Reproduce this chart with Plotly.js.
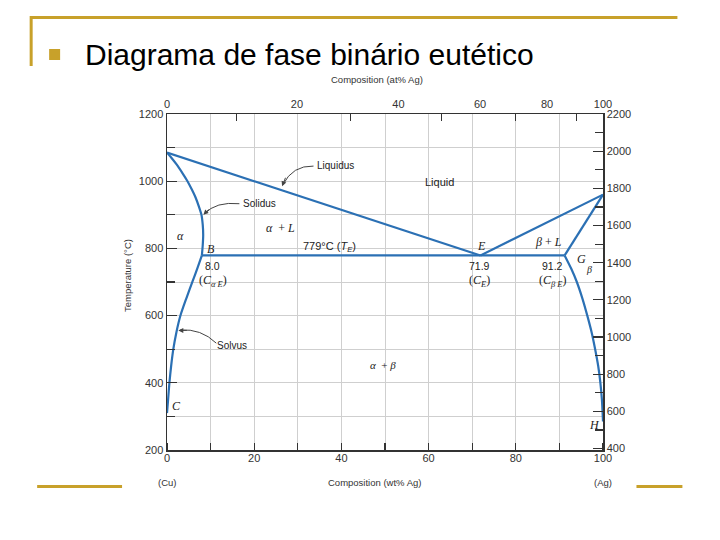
<!DOCTYPE html>
<html>
<head>
<meta charset="utf-8">
<script src="https://cdn.plot.ly/plotly-3.0.1.min.js"></script>
<style>html,body{margin:0;padding:0;background:#fff;}#chart{width:720px;height:540px;}</style>
</head>
<body>
<div id="chart"></div>
<script>
// ---- Data (wt% Ag, temperature °C) ----
const liquidusAE_x = [0, 71.9];
const liquidusAE_T = [1085, 779];
const liquidusEF_x = [71.9, 100];
const liquidusEF_T = [779, 960];
const solidusAlpha_x = [0, 1.0, 2.2, 3.5, 4.7, 5.7, 6.6, 7.3, 7.9, 8.2, 8.3, 8.2, 8.0];
const solidusAlpha_T = [1085, 1070, 1050, 1025, 1000, 975, 950, 925, 900, 870, 840, 810, 779];
const solvusAlpha_x = [8.0, 7.0, 5.9, 4.4, 3.1, 2.15, 1.45, 0.95, 0.55, 0.25, 0];
const solvusAlpha_T = [779, 742, 703, 650, 601, 550, 500, 450, 400, 350, 310];
const eutectic_x = [8.0, 91.2];
const eutectic_T = [779, 779];
const solidusBeta_x = [91.2, 100];
const solidusBeta_T = [779, 960];
const solvusBeta_x = [91.2, 92.7, 94.0, 95.3, 96.4, 97.4, 98.2, 98.9, 99.4, 99.75, 100];
const solvusBeta_T = [779, 740, 700, 650, 600, 550, 500, 450, 400, 350, 285];

// Axis ticks
const wtLabels = [0, 20, 40, 60, 80, 100];
const atLabels = [0, 20, 40, 60, 80, 100];
const atMinor = [10, 30, 50, 70, 90];
const tempCRange = [200, 1200];
const tempFLabels = [400, 600, 800, 1000, 1200, 1400, 1600, 1800, 2000, 2200];

// Conversions
const M_Ag = 107.87, M_Cu = 63.55;
function atToWt(a){ return 100 * a * M_Ag / (a * M_Ag + (100 - a) * M_Cu); }
function cToF(c){ return c * 1.8 + 32; }

// pixel -> paper helpers for decorations
const Lp = 167, Rp = 603.5, Tp = 114, Bp = 450;
function px(x){ return (x - Lp) / (Rp - Lp); }
function py(y){ return (Bp - y) / (Bp - Tp); }

const blue = '#2b70b4';
const gold = '#c8a12a';
const axisCol = '#333';
const gridCol = '#cfcfcf';
const arrowCol = '#444';
const tickFont = {family: 'Liberation Sans, Arial, sans-serif', size: 11, color: '#333'};
const serifI = {family: 'Liberation Serif, Times New Roman, serif', size: 12, color: '#222'};
const sansS = {family: 'Liberation Sans, Arial, sans-serif', size: 11, color: '#222'};
const sansA = {family: 'Liberation Sans, Arial, sans-serif', size: 10, color: '#222'};

function line(x, y, shape){
  return {x: x, y: y, type: 'scatter', mode: 'lines', line: {color: blue, width: 2.2, shape: shape || 'linear', smoothing: 0.6},
          hoverinfo: 'skip', showlegend: false, cliponaxis: false};
}

const traces = [
  line(liquidusAE_x, liquidusAE_T),
  line(liquidusEF_x, liquidusEF_T),
  line(solidusAlpha_x, solidusAlpha_T, 'spline'),
  line(solvusAlpha_x, solvusAlpha_T, 'spline'),
  line(eutectic_x, eutectic_T),
  line(solidusBeta_x, solidusBeta_T),
  line(solvusBeta_x, solvusBeta_T, 'spline'),
  {x: [], y: [], xaxis: 'x2', yaxis: 'y2', type: 'scatter', mode: 'lines', showlegend: false, hoverinfo: 'skip'}
];

function lbl(text, x, y, font, extra){
  return Object.assign({text: text, x: x, y: y, xref: 'x', yref: 'y', showarrow: false, font: font, yanchor: 'middle'}, extra || {});
}
// arrowhead only (short arrow ending at head, tail offset in pixels)
function head(x, y, dx, dy){
  return {text: '', x: x, y: y, ax: dx, ay: dy, xref: 'x', yref: 'y', showarrow: true,
          arrowhead: 2, arrowsize: 1, arrowwidth: 1, arrowcolor: arrowCol, standoff: 0};
}
function paperLbl(text, x, y, extra){
  return Object.assign({text: text, xref: 'paper', yref: 'paper', x: px(x), y: py(y), xanchor: 'center', yanchor: 'middle', showarrow: false,
    font: {family: 'Liberation Sans, Arial, sans-serif', size: 9.5, color: '#333'}}, extra || {});
}

const annotations = [
  lbl('<i>A</i>', -2.1, 1084, serifI),
  lbl('<i>B</i>', 10.1, 798, serifI),
  lbl('8.0', 10.5, 747, Object.assign({}, sansS, {size: 10.5})),
  lbl('(<i>C</i><sub><i>α E</i></sub>)', 10.5, 703, serifI),
  lbl('<i>α</i>', 3.0, 836, serifI),
  lbl('<i>α</i>  + <i>L</i>', 26.1, 860, serifI),
  lbl('779°C (<i>T</i><sub><i>E</i></sub>)', 37.3, 805, sansS),
  lbl('Liquid', 62.4, 997, sansS),
  lbl('<i>E</i>', 72.1, 807, serifI),
  lbl('71.9', 71.7, 747, Object.assign({}, sansS, {size: 10.5})),
  lbl('(<i>C</i><sub><i>E</i></sub>)', 71.7, 703, serifI),
  lbl('<i>β</i> + <i>L</i>', 87.4, 820, serifI),
  lbl('91.2', 88.5, 747, Object.assign({}, sansS, {size: 10.5})),
  lbl('(<i>C</i><sub><i>β E</i></sub>)', 88.5, 703, serifI),
  lbl('<i>G</i>', 95.0, 768, serifI),
  lbl('<i>β</i>', 96.8, 737, Object.assign({}, serifI, {size: 10})),
  lbl('<i>F</i>', 102.3, 932, serifI),
  lbl('<i>α</i>  + <i>β</i>', 49.6, 454, Object.assign({}, serifI, {size: 11})),
  lbl('<i>C</i>', 2.2, 330, serifI),
  lbl('<i>H</i>', 98.1, 274, serifI),
  // leader labels with curved arrows
  lbl('Liquidus', 38.6, 1046, sansA),
  head(26.4, 985, 4, -10),
  lbl('Solidus', 21.3, 934, sansA),
  head(8.35, 900, 7, -7),
  lbl('Solvus', 15.0, 512, sansA),
  head(2.6, 556, 10, 0),
  // axis titles
  paperLbl('Composition (at% Ag)', 377, 80),
  paperLbl('Composition (wt% Ag)', 375, 482),
  paperLbl('(Cu)', 167, 482),
  paperLbl('(Ag)', 604, 482),
  paperLbl('Temperature (°C)', 127, 276, {textangle: -90})
];

function curve(p0, c, p1){
  return {type: 'path', xref: 'x', yref: 'y', layer: 'above',
          path: 'M ' + p0[0] + ',' + p0[1] + ' Q ' + c[0] + ',' + c[1] + ' ' + p1[0] + ',' + p1[1],
          line: {color: arrowCol, width: 1}};
}

const shapes = [
  {type: 'line', xref: 'paper', yref: 'paper', x0: px(30), x1: px(678), y0: py(17.5), y1: py(17.5), line: {color: gold, width: 3}},
  {type: 'line', xref: 'paper', yref: 'paper', x0: px(31), x1: px(31), y0: py(16), y1: py(66), line: {color: gold, width: 3}},
  {type: 'rect', xref: 'paper', yref: 'paper', x0: px(49), x1: px(60), y0: py(49), y1: py(60), fillcolor: gold, line: {width: 0}},
  {type: 'line', xref: 'paper', yref: 'paper', x0: px(37), x1: px(122), y0: py(486.5), y1: py(486.5), line: {color: gold, width: 3}},
  {type: 'line', xref: 'paper', yref: 'paper', x0: px(637), x1: px(683), y0: py(486.5), y1: py(486.5), line: {color: gold, width: 3}},
  // curved leader lines
  curve([33.6, 1045], [28.8, 1047], [26.6, 990]),
  curve([16.6, 933], [11.2, 940], [8.6, 903]),
  curve([11.3, 518], [7.8, 562], [3.0, 557])
];

const layout = {
  width: 720, height: 540,
  margin: {l: 167, r: 116.5, t: 114, b: 90, pad: 0},
  paper_bgcolor: '#fff', plot_bgcolor: '#fff',
  showlegend: false,
  title: {text: 'Diagrama de fase binário eutético', xref: 'container', yref: 'container',
          x: 85/720, xanchor: 'left', y: 1 - 54/540, yanchor: 'middle',
          font: {family: 'Liberation Sans, Arial, sans-serif', size: 30, color: '#000'}},
  xaxis: {range: [0, 100], tickvals: wtLabels, ticktext: wtLabels.map(String), ticks: '', showline: true, linecolor: axisCol, linewidth: 1.5,
          showgrid: true, gridcolor: gridCol, gridwidth: 1, zeroline: false, tickfont: tickFont, ticklabelstandoff: -3,
          minor: {dtick: 10, tick0: 0, ticks: 'inside', ticklen: 7, tickcolor: axisCol, tickwidth: 1.2, showgrid: true, gridcolor: gridCol, gridwidth: 1}},
  xaxis2: {range: [0, 100], overlaying: 'x', side: 'top', tickvals: atLabels.map(atToWt), ticktext: atLabels.map(String),
           ticks: '', showline: true, linecolor: axisCol, linewidth: 1.5, showgrid: false, zeroline: false, tickfont: tickFont,
           minor: {tickvals: atMinor.map(atToWt), ticks: 'inside', ticklen: 7, tickcolor: axisCol, tickwidth: 1.2, showgrid: false}},
  yaxis: {range: tempCRange, dtick: 200, tick0: 0, ticks: 'inside', ticklen: 10, tickcolor: axisCol, tickwidth: 1.2,
          showline: true, linecolor: axisCol, linewidth: 1.5, showgrid: true, gridcolor: gridCol, gridwidth: 1, zeroline: false, tickfont: tickFont,
          minor: {dtick: 100, tick0: 0, ticks: 'inside', ticklen: 8, tickcolor: axisCol, tickwidth: 1.2, showgrid: true, gridcolor: gridCol, gridwidth: 1}},
  yaxis2: {range: [cToF(tempCRange[0]), cToF(tempCRange[1]) + 8.5], overlaying: 'y', side: 'right', tickvals: tempFLabels, ticktext: tempFLabels.map(String),
           ticks: 'inside', ticklen: 10, tickcolor: axisCol, tickwidth: 1.2, showline: true, linecolor: axisCol, linewidth: 1.5,
           showgrid: false, zeroline: false, tickfont: tickFont,
           minor: {dtick: 100, tick0: 0, ticks: 'inside', ticklen: 8, tickcolor: axisCol, tickwidth: 1.2, showgrid: false}},
  annotations: annotations,
  shapes: shapes
};

Plotly.newPlot('chart', traces, layout, {staticPlot: true, displayModeBar: false});
</script>
</body>
</html>
